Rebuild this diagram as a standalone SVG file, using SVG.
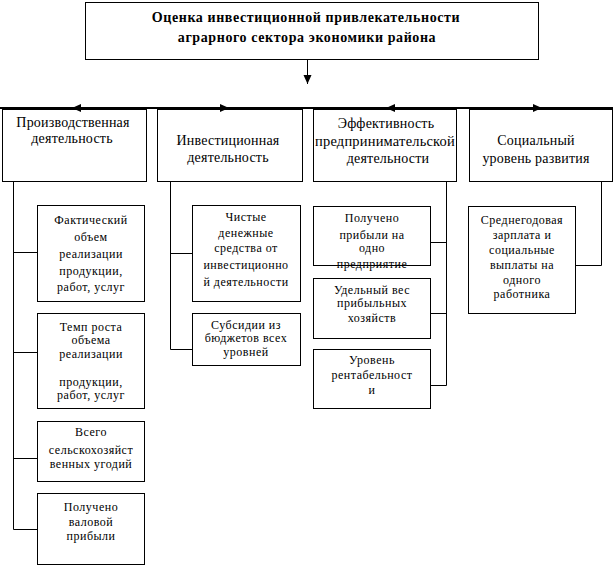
<svg xmlns="http://www.w3.org/2000/svg" width="614" height="566" viewBox="0 0 614 566">
<style>
.box{fill:none;stroke:#000;stroke-width:1}
.ln{fill:none;stroke:#000;stroke-width:1}
text{font-family:"Liberation Serif","Times New Roman",serif;fill:#000;text-anchor:middle}
.t{font-weight:bold;font-size:14px;letter-spacing:0.6px}
.h{font-size:14px;letter-spacing:0.2px}
.s{font-size:12px;letter-spacing:0.5px}
</style>
<defs>
<marker id="ah" markerWidth="10" markerHeight="10" refX="9" refY="4" orient="auto" markerUnits="userSpaceOnUse">
<path d="M0,0 L9,4 L0,8 Z" fill="#000"/>
</marker>
</defs>
<rect width="614" height="566" fill="#fff"/>
<g id="connectors">
<line class="ln" x1="307.5" y1="60" x2="307.5" y2="84" marker-end="url(#ah)"/>
<line x1="0" y1="108" x2="613" y2="108" stroke="#000" stroke-width="2"/>
<path d="M100,108 L72,108" class="ln" marker-end="url(#ah)"/>
<path d="M200,108 L229,108" class="ln" marker-end="url(#ah)"/>
<path d="M420,108 L386,108" class="ln" marker-end="url(#ah)"/>
<path d="M510,108 L542,108" class="ln" marker-end="url(#ah)"/>
<path class="ln" d="M13.5,181 V529.5 H37 M13.5,252.5 H37 M13.5,352.5 H37 M13.5,458.5 H37"/>
<path class="ln" d="M170.5,181 V349.5 H192 M170.5,253.5 H192"/>
<path class="ln" d="M446.5,181 V385.5 H430 M446.5,242.5 H430 M446.5,313.5 H430"/>
<path class="ln" d="M601.5,181 V265.5 H575"/>
</g>
<g id="root">
<rect class="box" x="85.5" y="2.5" width="453" height="57"/>
<text class="t" x="306" y="22">Оценка инвестиционной привлекательности</text>
<text class="t" x="307" y="42">аграрного сектора экономики района</text>
</g>
<g id="prod">
<rect class="box" x="2.5" y="109.5" width="144" height="72"/>
<text class="h" x="73" y="127">Производственная</text>
<text class="h" x="72" y="143">деятельность</text>
</g>
<g id="invest">
<rect class="box" x="157.5" y="109.5" width="145" height="72"/>
<text class="h" x="228" y="145">Инвестиционная</text>
<text class="h" x="228" y="162">деятельность</text>
</g>
<g id="effect">
<rect class="box" x="313.5" y="109.5" width="143" height="72"/>
<text class="h" x="386" y="128">Эффективность</text>
<text class="h" x="385" y="146" textLength="140" lengthAdjust="spacingAndGlyphs">предпринимательской</text>
<text class="h" x="388" y="163">деятельности</text>
</g>
<g id="social">
<rect class="box" x="469.5" y="109.5" width="143" height="72"/>
<text class="h" x="536" y="145">Социальный</text>
<text class="h" x="536" y="163">уровень развития</text>
</g>
<g id="fakt">
<rect class="box" x="37.5" y="205.5" width="107" height="96"/>
<text class="s" x="91" y="224">Фактический</text>
<text class="s" x="91" y="241">объем</text>
<text class="s" x="91" y="258">реализации</text>
<text class="s" x="91" y="275">продукции,</text>
<text class="s" x="91" y="291">работ, услуг</text>
</g>
<g id="temp">
<rect class="box" x="37.5" y="313.5" width="107" height="95"/>
<text class="s" x="91" y="331">Темп роста</text>
<text class="s" x="91" y="344">объема</text>
<text class="s" x="91" y="358">реализации</text>
<text class="s" x="91" y="386">продукции,</text>
<text class="s" x="91" y="399">работ, услуг</text>
</g>
<g id="vsego">
<rect class="box" x="37.5" y="421.5" width="107" height="60"/>
<text class="s" x="91" y="436">Всего</text>
<text class="s" x="91" y="454">сельскохозяйст</text>
<text class="s" x="91" y="468">венных угодий</text>
</g>
<g id="valov">
<rect class="box" x="37.5" y="493.5" width="107" height="71"/>
<text class="s" x="91" y="511">Получено</text>
<text class="s" x="91" y="526">валовой</text>
<text class="s" x="91" y="540">прибыли</text>
</g>
<g id="chist">
<rect class="box" x="192.5" y="205.5" width="108" height="96"/>
<text class="s" x="246" y="221">Чистые</text>
<text class="s" x="246" y="237">денежные</text>
<text class="s" x="246" y="252">средства от</text>
<text class="s" x="246" y="269">инвестиционно</text>
<text class="s" x="246" y="286">й деятельности</text>
</g>
<g id="subs">
<rect class="box" x="192.5" y="313.5" width="108" height="52"/>
<text class="s" x="246" y="329">Субсидии из</text>
<text class="s" x="246" y="342">бюджетов всех</text>
<text class="s" x="246" y="356">уровней</text>
</g>
<g id="pribyl">
<rect class="box" x="313.5" y="206.5" width="117" height="59"/>
<text class="s" x="372" y="222">Получено</text>
<text class="s" x="372" y="239">прибыли на</text>
<text class="s" x="372" y="252">одно</text>
<text class="s" x="372" y="268">предприятие</text>
</g>
<g id="udel">
<rect class="box" x="313.5" y="278.5" width="117" height="60"/>
<text class="s" x="372" y="294">Удельный вес</text>
<text class="s" x="372" y="307">прибыльных</text>
<text class="s" x="372" y="322">хозяйств</text>
</g>
<g id="rent">
<rect class="box" x="313.5" y="349.5" width="117" height="59"/>
<text class="s" x="372" y="364">Уровень</text>
<text class="s" x="372" y="379">рентабельност</text>
<text class="s" x="372" y="394">и</text>
</g>
<g id="zarp">
<rect class="box" x="468.5" y="206.5" width="107" height="107"/>
<text class="s" x="522" y="224">Среднегодовая</text>
<text class="s" x="522" y="239">зарплата и</text>
<text class="s" x="522" y="254">социальные</text>
<text class="s" x="522" y="269">выплаты на</text>
<text class="s" x="522" y="284">одного</text>
<text class="s" x="522" y="298">работника</text>
</g>
</svg>
